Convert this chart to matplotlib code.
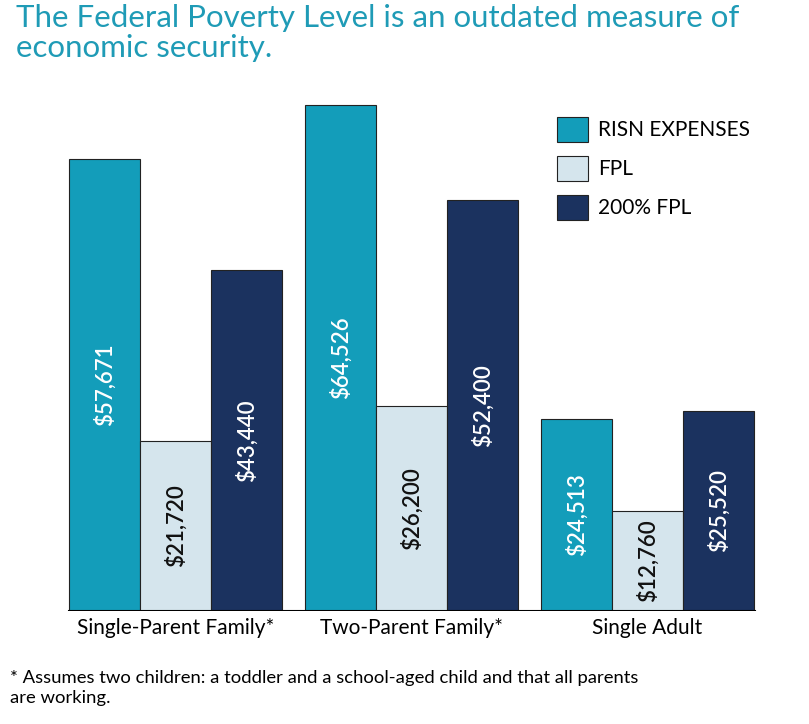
import matplotlib
matplotlib.use("Agg")
import matplotlib.pyplot as plt
import numpy as np

categories = ["Single-Parent Family*", "Two-Parent Family*", "Single Adult"]
series = ["RISN EXPENSES", "FPL", "200% FPL"]
risn = [57671, 64526, 24513]
fpl = [21720, 26200, 12760]
fpl200 = [43440, 52400, 25520]
colors = ["#139dba", "#d5e5ed", "#1b325f"]
txtcolors = ["white", "#111111", "white"]

plt.rcParams['font.family'] = ['Lato', 'DejaVu Sans']
W, H = 809, 724
fig = plt.figure(figsize=(W/100, H/100), dpi=100)
left, right, bottom, top = 60, 765, 611, 90
ax = fig.add_axes([left/W, 1-bottom/H, (right-left)/W, (bottom-top)/H])
ax.set_xlim(left, right)
ax.set_ylim(0, 64526*(611-90)/(611-105))

bw = 71
x0 = np.array([69, 305, 541])
for i, (vals, c, tc) in enumerate(zip([risn, fpl, fpl200], colors, txtcolors)):
    xs = x0 + i*bw
    ax.bar(xs, vals, width=bw, align='edge', color=c, edgecolor='#222222', linewidth=0.8, label=series[i])
    for x, v in zip(xs, vals):
        ax.text(x+bw/2, v/2, f"${v:,}", rotation=90, ha='center', va='center',
                color=tc, fontsize=16, fontweight='semibold')
ax.plot([69, 755], [0, 0], color='black', lw=1.5)
for s in ax.spines.values():
    s.set_visible(False)
ax.set_xticks(x0 + 1.5*bw)
ax.set_xticklabels(categories, fontsize=15)
ax.tick_params(axis='x', length=0, pad=5)
ax.set_yticks([])

leg = ax.legend(loc='upper left', bbox_to_anchor=((538-left)/(right-left), 1-(98-top)/(bottom-top)),
                frameon=False, fontsize=15, handlelength=1.5, handleheight=1.5,
                labelspacing=0.65, handletextpad=0.5)

fig.text(16/W, 1-4/H, "The Federal Poverty Level is an outdated measure of\neconomic security.",
         color="#1f9bb6", fontsize=22.5, va='top', linespacing=1.1)
fig.text(10/W, 1-688/H, "* Assumes two children: a toddler and a school-aged child and that all parents\nare working.",
         fontsize=13.3, va='center', linespacing=1.25)
fig.savefig("out.png", dpi=100)
